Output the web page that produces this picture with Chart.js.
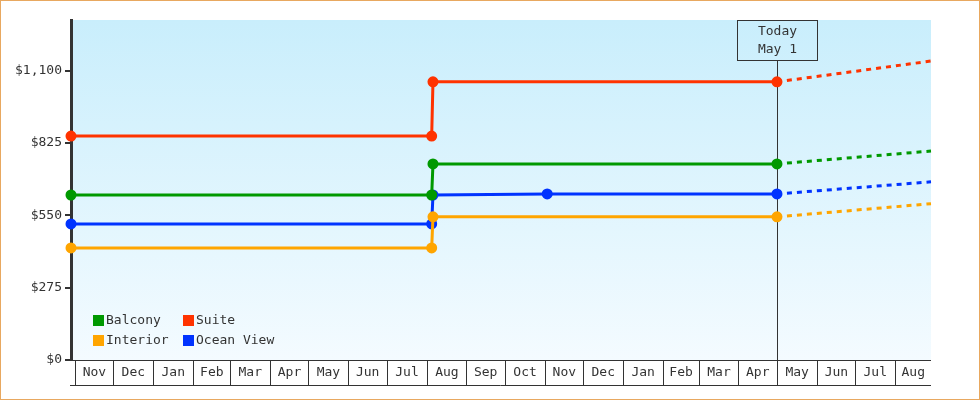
<!DOCTYPE html>
<html>
<head>
<meta charset="utf-8">
<script src="https://cdn.jsdelivr.net/npm/chart.js@4.4.1/dist/chart.umd.min.js"></script>
<style>
  html, body { margin: 0; padding: 0; background: #fff; }
  #wrap { width: 980px; height: 400px; }
</style>
</head>
<body>
<div id="wrap"><canvas id="chart" width="980" height="400"></canvas></div>
<script>
const seriesNames = ["Balcony", "Suite", "Interior", "Ocean View"];
const seriesColors = ["#009900", "#ff3300", "#ffa500", "#0033ff"];

// price history (solid)
const balconyDates = ["2023-10-29", "2024-08-05", "2024-08-06", "2025-05-01"];
const balconyPrices = [627, 627, 745, 745];
const suiteDates = ["2023-10-29", "2024-08-05", "2024-08-06", "2025-05-01"];
const suitePrices = [851, 851, 1057, 1057];
const interiorDates = ["2023-10-29", "2024-08-05", "2024-08-06", "2025-05-01"];
const interiorPrices = [426, 426, 544, 544];
const oceanDates = ["2023-10-29", "2024-08-05", "2024-08-06", "2024-11-03", "2025-05-01"];
const oceanPrices = [517, 517, 627, 631, 631];

// forecast (dashed)
const forecastDates = ["2025-05-01", "2025-08-29"];
const balconyForecast = [745, 794];
const suiteForecast = [1057, 1136];
const interiorForecast = [544, 594];
const oceanForecast = [631, 677];

const monthLabels = ["Nov", "Dec", "Jan", "Feb", "Mar", "Apr", "May", "Jun", "Jul", "Aug", "Sep",
  "Oct", "Nov", "Dec", "Jan", "Feb", "Mar", "Apr", "May", "Jun", "Jul", "Aug"];
const firstMonth = [2023, 10]; // Nov 2023 (0-based month)
const startDate = "2023-10-29";
const endDate = "2025-08-29";
const todayDate = "2025-05-01";
const todayLabel = ["Today", "May 1"];
const yTicks = [0, 275, 550, 825, 1100];
const yMax = 1292;

const FONT = "13px 'DejaVu Sans Mono', monospace";
const INK = "#333333";

function day(s) {
  const p = s.split("-").map(Number);
  return Date.UTC(p[0], p[1] - 1, p[2]) / 864e5;
}
function pts(dates, vals) {
  return dates.map((d, i) => ({ x: day(d), y: vals[i] }));
}

const history = [
  pts(balconyDates, balconyPrices),
  pts(suiteDates, suitePrices),
  pts(interiorDates, interiorPrices),
  pts(oceanDates, oceanPrices)
];
const forecast = [balconyForecast, suiteForecast, interiorForecast, oceanForecast]
  .map(v => pts(forecastDates, v));

const datasets = [];
forecast.forEach((d, i) => datasets.push({
  label: seriesNames[i] + " forecast",
  data: d,
  borderColor: seriesColors[i],
  borderWidth: 3,
  borderDash: [5, 5],
  pointRadius: 0,
  clip: false,
  inLegend: false
}));
history.forEach((d, i) => datasets.push({
  label: seriesNames[i],
  data: d,
  borderColor: seriesColors[i],
  backgroundColor: seriesColors[i],
  borderWidth: 3,
  pointRadius: 4,
  pointHoverRadius: 4,
  clip: false,
  inLegend: true
}));

const backdrop = {
  id: "backdrop",
  beforeDraw(chart) {
    const { ctx, chartArea: a } = chart;
    ctx.save();
    ctx.fillStyle = "#ffffff";
    ctx.fillRect(0, 0, chart.width, chart.height);
    const g = ctx.createLinearGradient(0, a.top, 0, a.bottom);
    g.addColorStop(0, "#c9eefc");
    g.addColorStop(1, "#f4fbff");
    ctx.fillStyle = g;
    ctx.fillRect(a.left, a.top, a.right - a.left, a.bottom - a.top);
    ctx.strokeStyle = "#e8a860";
    ctx.lineWidth = 1;
    ctx.strokeRect(0.5, 0.5, chart.width - 1, chart.height - 1);
    ctx.restore();
  }
};

const monthRow = {
  id: "monthRow",
  afterDraw(chart) {
    const { ctx, chartArea: a } = chart;
    const xs = chart.scales.x;
    const rowBottom = a.bottom + 25;
    ctx.save();
    ctx.strokeStyle = INK;
    ctx.lineWidth = 1;
    ctx.beginPath();
    ctx.moveTo(a.left, a.bottom + 0.5);
    ctx.lineTo(a.right, a.bottom + 0.5);
    ctx.moveTo(a.left - 1, rowBottom + 0.5);
    ctx.lineTo(a.right, rowBottom + 0.5);
    ctx.stroke();
    ctx.font = FONT;
    ctx.fillStyle = INK;
    ctx.textAlign = "center";
    ctx.textBaseline = "middle";
    monthLabels.forEach((lab, i) => {
      const s = Date.UTC(firstMonth[0], firstMonth[1] + i, 1) / 864e5;
      const e = Date.UTC(firstMonth[0], firstMonth[1] + i + 1, 1) / 864e5;
      const x0 = Math.round(xs.getPixelForValue(s)) + 0.5;
      const x1 = Math.min(xs.getPixelForValue(e), a.right);
      ctx.beginPath();
      ctx.moveTo(x0, a.bottom);
      ctx.lineTo(x0, rowBottom);
      ctx.stroke();
      ctx.fillText(lab, (x0 + x1) / 2, a.bottom + 13);
    });
    ctx.restore();
  }
};

const todayMark = {
  id: "todayMark",
  beforeDatasetsDraw(chart) {
    const { ctx, chartArea: a } = chart;
    const x = Math.round(chart.scales.x.getPixelForValue(day(todayDate))) + 0.5;
    ctx.save();
    ctx.strokeStyle = INK;
    ctx.lineWidth = 1;
    ctx.beginPath();
    ctx.moveTo(x, a.top + 40);
    ctx.lineTo(x, a.bottom + 25);
    ctx.stroke();
    ctx.restore();
  },
  afterDraw(chart) {
    const { ctx, chartArea: a } = chart;
    const x = Math.round(chart.scales.x.getPixelForValue(day(todayDate))) + 0.5;
    ctx.save();
    ctx.strokeStyle = INK;
    ctx.lineWidth = 1;
    ctx.strokeRect(x - 40, a.top + 0.5, 80, 40);
    ctx.font = FONT;
    ctx.fillStyle = INK;
    ctx.textAlign = "center";
    ctx.textBaseline = "middle";
    ctx.fillText(todayLabel[0], x, a.top + 12);
    ctx.fillText(todayLabel[1], x, a.top + 30);
    ctx.restore();
  }
};

const boxLegend = {
  id: "boxLegend",
  afterDraw(chart) {
    const { ctx, chartArea: a } = chart;
    const items = chart.data.datasets.filter(d => d.inLegend);
    ctx.save();
    ctx.font = FONT;
    ctx.textBaseline = "middle";
    ctx.textAlign = "left";
    items.forEach((d, i) => {
      const col = i % 2, row = Math.floor(i / 2);
      const x = a.left + 22 + col * 90;
      const y = a.bottom - 45 + row * 20;
      ctx.fillStyle = d.borderColor;
      ctx.fillRect(x, y, 11, 11);
      ctx.fillStyle = INK;
      ctx.fillText(d.label, x + 13, y + 6);
    });
    ctx.restore();
  }
};

new Chart(document.getElementById("chart"), {
  type: "line",
  data: { datasets },
  options: {
    responsive: false,
    animation: false,
    events: [],
    layout: { padding: { left: 0, top: 20, right: 49, bottom: 40 } },
    elements: { line: { tension: 0 } },
    plugins: { legend: { display: false }, tooltip: { enabled: false } },
    scales: {
      x: {
        type: "linear",
        display: false,
        min: day(startDate),
        max: day(endDate)
      },
      y: {
        min: 0,
        max: yMax,
        afterBuildTicks(scale) { scale.ticks = yTicks.map(v => ({ value: v })); },
        afterFit(scale) { scale.width = 71; },
        border: { display: true, color: INK, width: 3 },
        grid: { drawOnChartArea: false, color: INK, tickLength: 6, lineWidth: 2 },
        ticks: {
          padding: 3,
          color: INK,
          font: { family: "'DejaVu Sans Mono', monospace", size: 13 },
          callback: v => "$" + v.toLocaleString("en-US")
        }
      }
    }
  },
  plugins: [backdrop, monthRow, todayMark, boxLegend]
});
</script>
</body>
</html>
